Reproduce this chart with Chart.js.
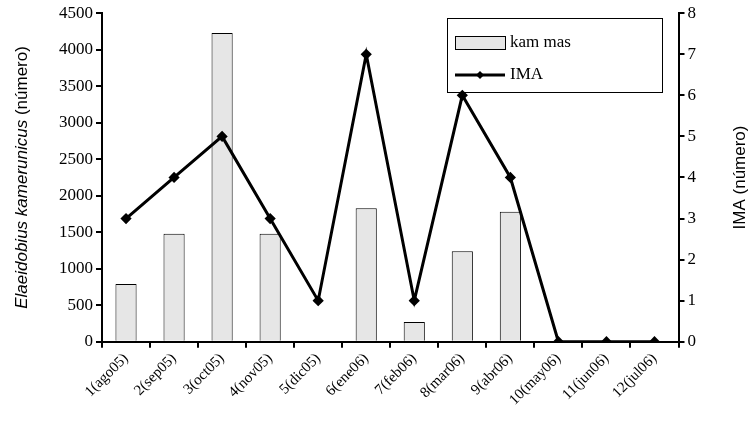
<!DOCTYPE html>
<html><head><meta charset="utf-8">
<script src="https://cdn.jsdelivr.net/npm/chart.js@4"></script>
<style>body{margin:0;background:#fff}#wrap{width:751px;height:429px}</style>
</head><body><div id="wrap"><canvas id="c"></canvas></div>
<script>
const categories = ['1(ago05)','2(sep05)','3(oct05)','4(nov05)','5(dic05)','6(ene06)','7(feb06)','8(mar06)','9(abr06)','10(may06)','11(jun06)','12(jul06)'];
const kamMas = [790, 1480, 4230, 1480, 8, 1830, 270, 1240, 1780, 0, 0, 0];
const ima = [3, 4, 5, 3, 1, 7, 1, 6, 4, 0, 0, 0];

const serif = 'Liberation Serif';
const extras = {
  id: 'extras',
  afterDraw(chart) {
    const ctx = chart.ctx, a = chart.chartArea;
    ctx.save();
    ctx.fillStyle = '#000';
    ctx.textBaseline = 'middle';
    ctx.save();
    ctx.translate(22, (a.top + a.bottom) / 2);
    ctx.rotate(-Math.PI / 2);
    const p1 = 'Elaeidobius kamerunicus ', p2 = '(número)';
    ctx.font = 'italic 17px Liberation Sans';
    const w1 = ctx.measureText(p1).width;
    ctx.font = '17px Liberation Sans';
    const w2 = ctx.measureText(p2).width;
    const x = -(w1 + w2) / 2;
    ctx.font = 'italic 17px Liberation Sans';
    ctx.fillText(p1, x, 0);
    ctx.font = '17px Liberation Sans';
    ctx.fillText(p2, x + w1, 0);
    ctx.restore();
    ctx.save();
    ctx.translate(740, (a.top + a.bottom) / 2);
    ctx.rotate(-Math.PI / 2);
    ctx.textAlign = 'center';
    ctx.font = '17px Liberation Sans';
    ctx.fillText('IMA (número)', 0, 0);
    ctx.restore();
    ctx.strokeStyle = '#000'; ctx.lineWidth = 1;
    ctx.strokeRect(447.5, 18.5, 215, 74);
    ctx.fillStyle = '#e6e6e6';
    ctx.fillRect(455, 36, 50, 13); ctx.strokeRect(455.5, 36.5, 50, 13);
    ctx.lineWidth = 3;
    ctx.beginPath(); ctx.moveTo(455, 75); ctx.lineTo(505, 75); ctx.stroke();
    ctx.fillStyle = '#000';
    ctx.beginPath(); ctx.moveTo(480, 71); ctx.lineTo(484, 75); ctx.lineTo(480, 79); ctx.lineTo(476, 75); ctx.fill();
    ctx.font = '17px ' + serif;
    ctx.fillText(chart.data.datasets[1].label, 510, 43);
    ctx.fillText(chart.data.datasets[0].label, 510, 75);
    ctx.restore();
  }
};

const tickGrid = { drawOnChartArea: false, drawTicks: true, tickLength: 6, color: '#000', lineWidth: 2 };
new Chart(document.getElementById('c'), {
  data: {
    labels: categories,
    datasets: [
      { type: 'line', label: 'IMA', data: ima, yAxisID: 'y2', borderColor: '#000', backgroundColor: '#000',
        borderWidth: 3, pointStyle: 'rectRot', pointRadius: 3.5, tension: 0, order: 0 },
      { type: 'bar', label: 'kam mas', data: kamMas, yAxisID: 'y', backgroundColor: '#e6e6e6',
        borderColor: '#000', borderWidth: 1, categoryPercentage: 0.8, barPercentage: 0.55, order: 1 }
    ]
  },
  options: {
    responsive: true, maintainAspectRatio: false, animation: false,
    layout: { padding: { left: 56, right: 52, top: 7, bottom: 18 } },
    plugins: { legend: { display: false }, tooltip: { enabled: false } },
    scales: {
      x: { grid: tickGrid, border: { color: '#000', width: 2 },
        ticks: { color: '#000', font: { family: serif, size: 15 }, maxRotation: 45, minRotation: 45, padding: 2 } },
      y: { position: 'left', min: 0, max: 4500, grid: tickGrid, border: { color: '#000', width: 2 },
        ticks: { stepSize: 500, color: '#000', font: { family: serif, size: 17 }, callback: v => String(v) } },
      y2: { position: 'right', min: 0, max: 8, grid: tickGrid, border: { color: '#000', width: 2 },
        ticks: { stepSize: 1, color: '#000', font: { family: serif, size: 17 } } }
    }
  },
  plugins: [extras]
});
</script></body></html>
